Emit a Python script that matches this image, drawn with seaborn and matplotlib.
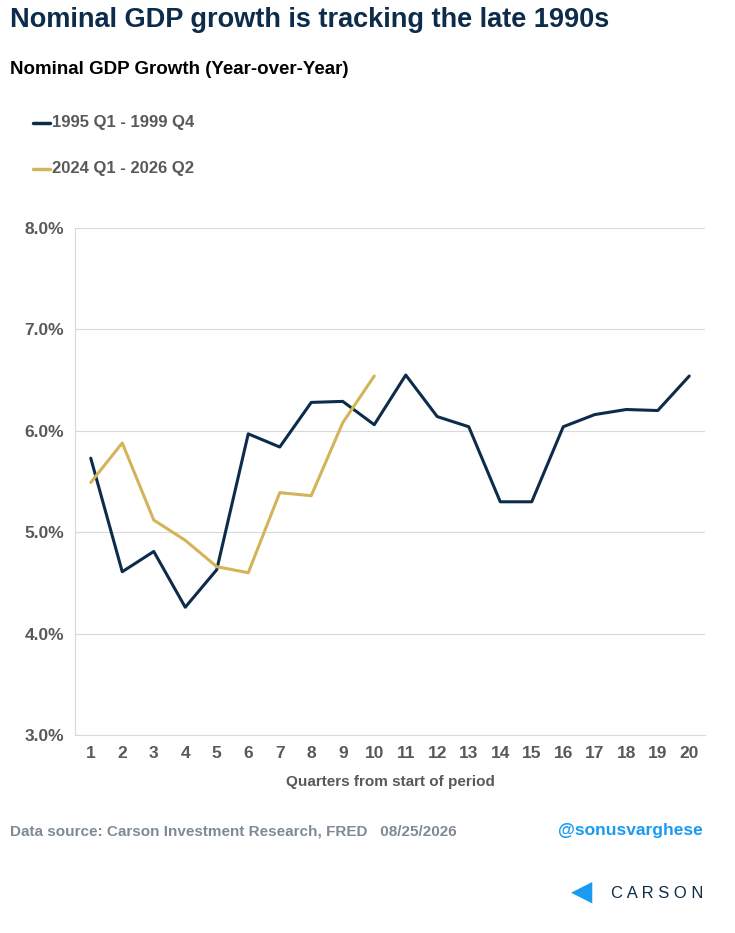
import matplotlib
matplotlib.use('Agg')
import matplotlib.pyplot as plt
import seaborn as sns
import pandas as pd

quarters = list(range(1, 21))
s1995 = [5.73, 4.61, 4.81, 4.26, 4.63, 5.97, 5.84, 6.28, 6.29, 6.06,
         6.55, 6.14, 6.04, 5.30, 5.30, 6.04, 6.16, 6.21, 6.20, 6.54]
s2024 = [5.49, 5.88, 5.12, 4.92, 4.66, 4.60, 5.39, 5.36, 6.08, 6.54]

df = pd.concat([
    pd.DataFrame({'q': quarters, 'v': s1995, 'period': '1995 Q1 - 1999 Q4'}),
    pd.DataFrame({'q': quarters[:10], 'v': s2024, 'period': '2024 Q1 - 2026 Q2'}),
])

sns.set_style('white')
plt.rcParams['font.family'] = ['Liberation Sans', 'DejaVu Sans']

fig = plt.figure(figsize=(7.35, 9.33), dpi=100)
ax = fig.add_axes([75/735, 1-735/933, 630/735, 507/933])
sns.lineplot(data=df, x='q', y='v', hue='period',
             palette=['#0d2b4a', '#d4b45a'], linewidth=2.2, ax=ax, legend=False)

ax.set_ylim(3, 8)
ax.set_xlim(0.5, 20.5)
ax.set_xticks(quarters)
ax.set_yticks([3, 4, 5, 6, 7, 8])
ax.set_yticklabels([f'{v:.1f}%' for v in [3, 4, 5, 6, 7, 8]])
ax.yaxis.grid(True, color='#d9d9d9', linewidth=0.8)
for s in ['top', 'right']:
    ax.spines[s].set_visible(False)
ax.spines['left'].set_color('#d9d9d9')
ax.spines['bottom'].set_color('#d9d9d9')
ax.tick_params(axis='both', length=0, labelsize=12.5, labelcolor='#595959', pad=8)
for t in ax.get_xticklabels() + ax.get_yticklabels():
    t.set_fontweight('bold')
ax.set_xlabel('Quarters from start of period', fontsize=11, color='#595959',
              fontweight='bold', labelpad=10)
ax.set_ylabel('')

fig.text(10/735, 1-20/933, 'Nominal GDP growth is tracking the late 1990s',
         fontsize=19.5, fontweight='bold', color='#0d2b4a', va='center')
fig.text(10/735, 1-70/933, 'Nominal GDP Growth (Year-over-Year)',
         fontsize=13.5, fontweight='bold', color='black', va='center')
for y, lab, c in [(123, '1995 Q1 - 1999 Q4', '#0d2b4a'), (169, '2024 Q1 - 2026 Q2', '#d4b45a')]:
    fig.add_artist(plt.Line2D([33/735, 50/735], [1-y/933]*2, color=c, linewidth=2.5))
    fig.text(52/735, 1-y/933, lab, fontsize=12, fontweight='bold', color='#595959', va='center')

fig.text(10/735, 1-831/933, 'Data source: Carson Investment Research, FRED   08/25/2026',
         fontsize=11, fontweight='bold', color='#7f8a96', va='center')
fig.text(703/735, 1-831/933, '@sonusvarghese', fontsize=12.5, fontweight='bold',
         color='#1a9af0', va='center', ha='right')
fig.text(703/735, 1-893/933, 'C A R S O N', fontsize=12, color='#0d2b4a', va='center',
         ha='right')
fig.text(582/735, 1-893/933, '◀', fontsize=20, color='#1a9af0', va='center', ha='center')

fig.savefig('out.png', dpi=100)
